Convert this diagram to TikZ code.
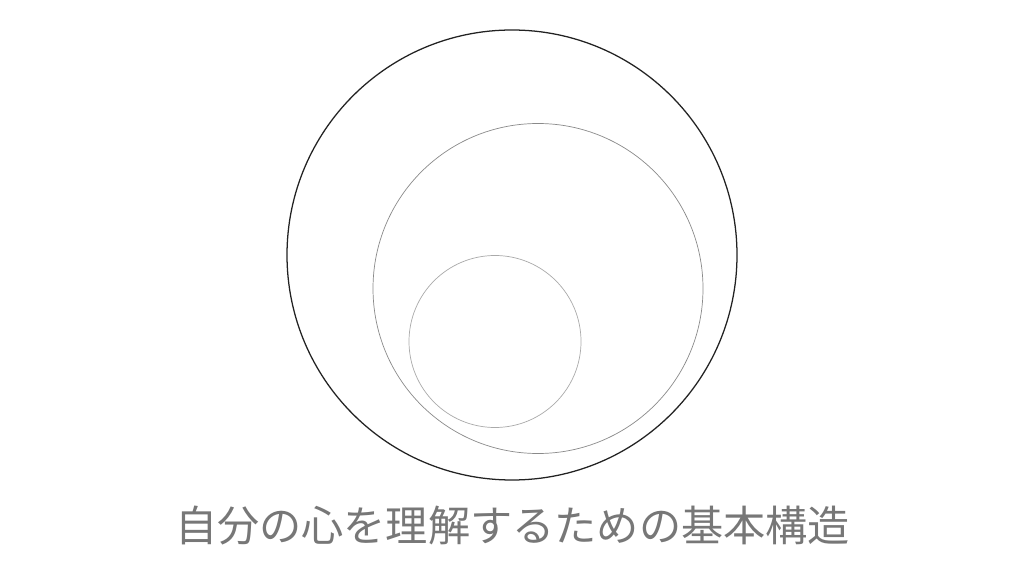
\documentclass[tikz,border=0pt]{standalone}
\usepackage{fontspec}
\newfontfamily\cjk{Noto Sans CJK JP}
\definecolor{outerc}{HTML}{222222}
\definecolor{midc}{HTML}{8A8A8A}
\definecolor{innc}{HTML}{AAAAAA}
\definecolor{txtc}{HTML}{777777}
\begin{document}
\begin{tikzpicture}[x=0.025cm,y=-0.025cm,
  ring/.style={draw,fill=none},
  titletext/.style={font=\cjk\fontsize{30}{36}\selectfont,text=txtc,inner sep=0pt}]
\useasboundingbox[fill=white] (0,0) rectangle (1024,576);
\node[ring,circle,minimum size=450*0.025cm,draw=outerc,line width=0.9pt] (outer) at (512,255) {};
\node[ring,circle,minimum size=330*0.025cm,draw=midc,line width=0.5pt] (middle) at (538,288.5) {};
\node[ring,circle,minimum size=172*0.025cm,draw=innc,line width=0.5pt] (inner) at (495,341.5) {};
\node[titletext] (title) at (512.5,526) {自分の心を理解するための基本構造};
\end{tikzpicture}
\end{document}
